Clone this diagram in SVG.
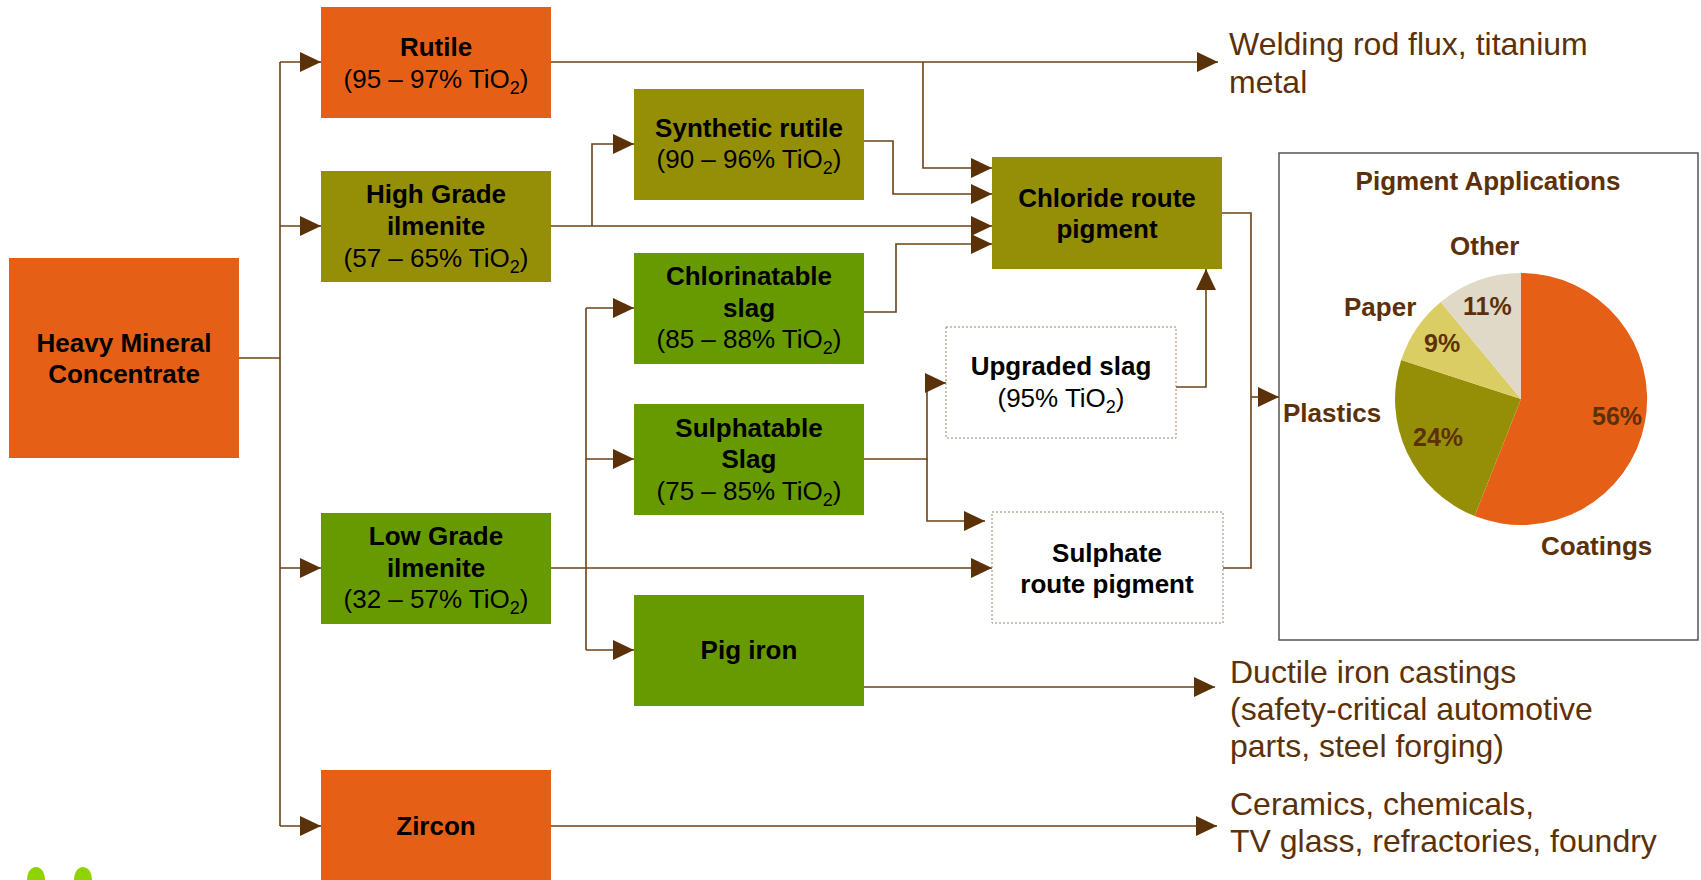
<svg xmlns="http://www.w3.org/2000/svg" width="1701" height="880" viewBox="0 0 1701 880">
<style>
.t{font-family:"Liberation Sans",Arial,sans-serif;font-size:26px;text-anchor:middle;fill:#000}
.b{font-weight:bold}
.sub{font-size:18px}
.out{font-family:"Liberation Sans",Arial,sans-serif;font-size:32px;fill:#5C3109}
.pl{font-family:"Liberation Sans",Arial,sans-serif;font-size:26px;font-weight:bold;fill:#5C3109}
.pc{font-size:25px}
.c{fill:none;stroke:#6B4116;stroke-width:1.6}
.org{fill:#E65F16}
.olv{fill:#958F08}
.grn{fill:#669A00}
.dash{fill:#fff;stroke:#A0826A;stroke-width:1;stroke-dasharray:2 2}
</style>
<defs>
<marker id="ah" markerUnits="userSpaceOnUse" markerWidth="21" markerHeight="20" refX="21" refY="10" orient="auto">
<path d="M0,0 L21,10 L0,20 z" fill="#5A3108"/>
</marker>
</defs>

<g id="connectors">
<path class="c" d="M239,358 H280 M280,62 V826"/>
<path class="c" d="M280,62 H321" marker-end="url(#ah)"/>
<path class="c" d="M280,226 H321" marker-end="url(#ah)"/>
<path class="c" d="M280,568 H321" marker-end="url(#ah)"/>
<path class="c" d="M280,826 H321" marker-end="url(#ah)"/>
<path class="c" d="M551,62 H1218" marker-end="url(#ah)"/>
<path class="c" d="M923,62 V168 H992" marker-end="url(#ah)"/>
<path class="c" d="M551,226 H992" marker-end="url(#ah)"/>
<path class="c" d="M592,226 V144 H634" marker-end="url(#ah)"/>
<path class="c" d="M864,141 H893 V194 H992" marker-end="url(#ah)"/>
<path class="c" d="M864,312 H896 V244 H992" marker-end="url(#ah)"/>
<path class="c" d="M551,568 H992" marker-end="url(#ah)"/>
<path class="c" d="M586,308 V650"/>
<path class="c" d="M586,308 H634" marker-end="url(#ah)"/>
<path class="c" d="M586,459 H634" marker-end="url(#ah)"/>
<path class="c" d="M586,650 H634" marker-end="url(#ah)"/>
<path class="c" d="M864,459 H927 V383 H946" marker-end="url(#ah)"/>
<path class="c" d="M927,459 V521 H985" marker-end="url(#ah)"/>
<path class="c" d="M1176,387 H1206 V269" marker-end="url(#ah)"/>
<path class="c" d="M1222,213 H1251 V568 H1223"/>
<path class="c" d="M1251,397 H1279" marker-end="url(#ah)"/>
<path class="c" d="M864,687 H1215" marker-end="url(#ah)"/>
<path class="c" d="M551,826 H1217" marker-end="url(#ah)"/>
</g>

<g id="heavy-mineral">
<rect class="org" x="9" y="258" width="230" height="200"/>
<text class="t b" x="124" y="352">Heavy Mineral</text>
<text class="t b" x="124" y="383">Concentrate</text>
</g>

<g id="rutile">
<rect class="org" x="321" y="7" width="230" height="111"/>
<text class="t b" x="436" y="56">Rutile</text>
<text class="t" x="436" y="88">(95 – 97% TiO<tspan class="sub" dy="6">2</tspan><tspan dy="-6">)</tspan></text>
</g>

<g id="high-grade">
<rect class="olv" x="321" y="171" width="230" height="111"/>
<text class="t b" x="436" y="203">High Grade</text>
<text class="t b" x="436" y="235">ilmenite</text>
<text class="t" x="436" y="267">(57 – 65% TiO<tspan class="sub" dy="6">2</tspan><tspan dy="-6">)</tspan></text>
</g>

<g id="low-grade">
<rect class="grn" x="321" y="513" width="230" height="111"/>
<text class="t b" x="436" y="545">Low Grade</text>
<text class="t b" x="436" y="577">ilmenite</text>
<text class="t" x="436" y="608">(32 – 57% TiO<tspan class="sub" dy="6">2</tspan><tspan dy="-6">)</tspan></text>
</g>

<g id="zircon">
<rect class="org" x="321" y="770" width="230" height="112"/>
<text class="t b" x="436" y="835">Zircon</text>
</g>

<g id="synthetic-rutile">
<rect class="olv" x="634" y="89" width="230" height="111"/>
<text class="t b" x="749" y="137">Synthetic rutile</text>
<text class="t" x="749" y="168">(90 – 96% TiO<tspan class="sub" dy="6">2</tspan><tspan dy="-6">)</tspan></text>
</g>

<g id="chlorinatable-slag">
<rect class="grn" x="634" y="253" width="230" height="111"/>
<text class="t b" x="749" y="285">Chlorinatable</text>
<text class="t b" x="749" y="317">slag</text>
<text class="t" x="749" y="348">(85 – 88% TiO<tspan class="sub" dy="6">2</tspan><tspan dy="-6">)</tspan></text>
</g>

<g id="sulphatable-slag">
<rect class="grn" x="634" y="404" width="230" height="111"/>
<text class="t b" x="749" y="437">Sulphatable</text>
<text class="t b" x="749" y="468">Slag</text>
<text class="t" x="749" y="500">(75 – 85% TiO<tspan class="sub" dy="6">2</tspan><tspan dy="-6">)</tspan></text>
</g>

<g id="pig-iron">
<rect class="grn" x="634" y="595" width="230" height="111"/>
<text class="t b" x="749" y="659">Pig iron</text>
</g>

<g id="chloride-route">
<rect class="olv" x="992" y="157" width="230" height="112"/>
<text class="t b" x="1107" y="207">Chloride route</text>
<text class="t b" x="1107" y="238">pigment</text>
</g>

<g id="upgraded-slag">
<rect class="dash" x="946" y="327" width="230" height="111"/>
<text class="t b" x="1061" y="375">Upgraded slag</text>
<text class="t" x="1061" y="407">(95% TiO<tspan class="sub" dy="6">2</tspan><tspan dy="-6">)</tspan></text>
</g>

<g id="sulphate-route">
<rect class="dash" x="992" y="512" width="231" height="111"/>
<text class="t b" x="1107" y="562">Sulphate</text>
<text class="t b" x="1107" y="593">route pigment</text>
</g>

<g id="welding">
<text class="out" x="1229" y="55">Welding rod flux, titanium</text>
<text class="out" x="1229" y="93">metal</text>
</g>

<g id="ductile">
<text class="out" x="1230" y="683">Ductile iron castings</text>
<text class="out" x="1230" y="720">(safety-critical automotive</text>
<text class="out" x="1230" y="757">parts, steel forging)</text>
</g>

<g id="ceramics">
<text class="out" x="1230" y="815">Ceramics, chemicals,</text>
<text class="out" x="1230" y="852">TV glass, refractories, foundry</text>
</g>

<g id="pigment-applications">
<rect x="1279" y="153" width="419" height="487" fill="#fff" stroke="#555" stroke-width="1.5"/>
<text class="pl" x="1488" y="190" text-anchor="middle">Pigment Applications</text>
<path d="M1521,399 L1521,273 A126,126 0 1 1 1474.6,516.1 Z" fill="#E65F16"/>
<path d="M1521,399 L1474.6,516.1 A126,126 0 0 1 1401.2,360.1 Z" fill="#958F08"/>
<path d="M1521,399 L1401.2,360.1 A126,126 0 0 1 1440.7,301.9 Z" fill="#D9CD63"/>
<path d="M1521,399 L1440.7,301.9 A126,126 0 0 1 1521,273 Z" fill="#E0D9C8"/>
<text class="pl pc" x="1592" y="425">56%</text>
<text class="pl pc" x="1413" y="446">24%</text>
<text class="pl pc" x="1424" y="352">9%</text>
<text class="pl pc" x="1463" y="315">11%</text>
<text class="pl" x="1450" y="255">Other</text>
<text class="pl" x="1344" y="316">Paper</text>
<text class="pl" x="1283" y="422">Plastics</text>
<text class="pl" x="1541" y="555">Coatings</text>
</g>

<g id="dots">
<ellipse cx="36" cy="879" rx="9" ry="12" fill="#8FD400"/>
<ellipse cx="83" cy="879" rx="9" ry="12" fill="#8FD400"/>
</g>
</svg>
